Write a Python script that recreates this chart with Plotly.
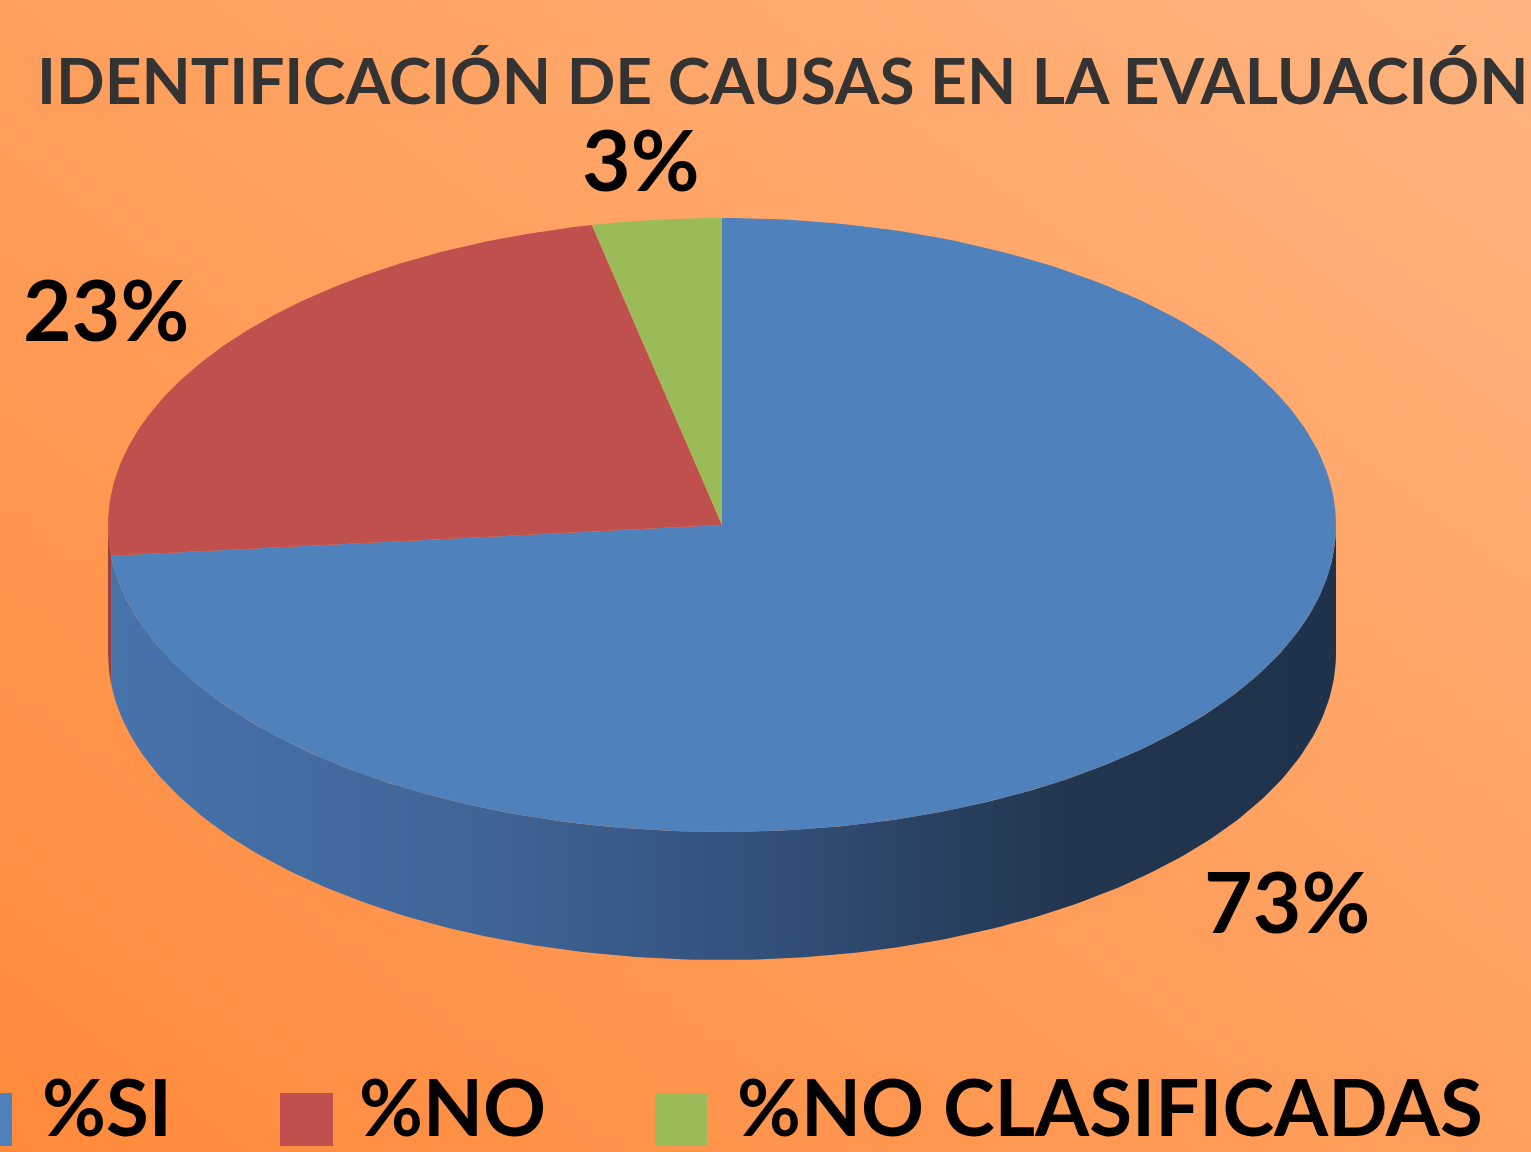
import base64
import numpy as np
import plotly.graph_objects as go

# ---------------- data ----------------
categories = ["%SI", "%NO", "%NO CLASIFICADAS"]
values = [73.4, 23.2, 3.4]
labels_text = ["73%", "23%", "3%"]
title_text = "IDENTIFICACIÓN DE CAUSAS EN LA EVALUACIÓN"

top_colors = ["#4F81BD", "#C0504D", "#9BBB59"]
side_colors = [
    [[0.0, "#4773AB"], [0.3, "#3F6597"], [0.55, "#314F78"], [0.78, "#22364F"], [1.0, "#1F324B"]],
    [[0.0, "#9A3F3D"], [1.0, "#9A3F3D"]],
    [[0.0, "#7A9446"], [1.0, "#7A9446"]],
]

W, H = 1531, 1152
FONT = "Lato"

# geometry of the 3D pie in axis units (rx = 1)
RY = 0.5        # vertical squash of the top ellipse
DEPTH = 0.2085  # thickness of the pie
PX = 614.0      # pixels per axis unit
CX, CY = 722.0, 525.0  # pixel position of the centre

total = float(sum(values))
bounds = np.concatenate([[0.0], np.cumsum(values)]) / total * 360.0


def arc(a0, a1, n=200):
    t = np.radians(np.linspace(a0, a1, n))
    return np.sin(t), RY * np.cos(t)


fig = go.Figure()

# side walls (front half only: 90..270 deg clockwise from top)
for i in range(len(values)):
    a0, a1 = max(bounds[i], 90.0), min(bounds[i + 1], 270.0)
    if a1 <= a0:
        continue
    xs, ys = arc(a0, a1)
    px = np.concatenate([xs, xs[::-1], xs[:1]])
    py = np.concatenate([ys, ys[::-1] - DEPTH, ys[:1]])
    fig.add_trace(go.Scatter(
        x=px, y=py, mode="lines", line=dict(width=0), fill="toself",
        fillgradient=dict(type="horizontal", colorscale=side_colors[i]),
        hoverinfo="skip", showlegend=False))

# top faces
for i in range(len(values)):
    xs, ys = arc(bounds[i], bounds[i + 1])
    px = np.concatenate([[0.0], xs, [0.0]])
    py = np.concatenate([[0.0], ys, [0.0]])
    fig.add_trace(go.Scatter(
        x=px, y=py, mode="lines", line=dict(width=0), fill="toself",
        fillcolor=top_colors[i], hoverinfo="text", text=categories[i],
        showlegend=False))

# percentage labels, placed outside each slice's mid-angle
annotations = []
for i in range(len(values)):
    mid = np.radians((bounds[i] + bounds[i + 1]) / 2.0)
    lx = 1.24 * np.sin(mid)
    ly = 1.2 * RY * np.cos(mid)
    if np.cos(mid) < 0:
        ly -= DEPTH
    annotations.append(dict(
        x=lx, y=ly, xref="x", yref="y", text=labels_text[i], showarrow=False,
        font=dict(family=FONT, size=84, color="#000000", weight="bold"),
        xanchor="center", yanchor="middle"))

# title
annotations.append(dict(
    x=783 / W, y=1 - 80 / H, xref="paper", yref="paper", text=title_text,
    showarrow=False, xanchor="center", yanchor="middle",
    font=dict(family=FONT, size=64, color="#333333", weight="bold")))

# legend (bottom, blue key partly cut by the frame as in the reference)
legend_sq = [(-41, 12), (280, 333), (655, 707)]
legend_tx = [40, 357, 735]
shapes = []
for i in range(len(categories)):
    x0, x1 = legend_sq[i]
    shapes.append(dict(type="rect", xref="paper", yref="paper",
                       x0=x0 / W, x1=x1 / W, y0=1 - 1146 / H, y1=1 - 1093 / H,
                       fillcolor=top_colors[i], line=dict(width=0)))
    annotations.append(dict(
        x=legend_tx[i] / W, y=1 - 1106 / H, xref="paper", yref="paper",
        text=categories[i], showarrow=False, xanchor="left", yanchor="middle",
        font=dict(family=FONT, size=78, color="#000000", weight="bold")))

# gradient background as an inline svg image
svg = (
    '<svg xmlns="http://www.w3.org/2000/svg" width="1531" height="1152">'
    '<defs><linearGradient id="g" x1="0" y1="1" x2="1" y2="0">'
    '<stop offset="0" stop-color="#FF8A3B"/>'
    '<stop offset="1" stop-color="#FFB47F"/>'
    '</linearGradient></defs>'
    '<rect width="1531" height="1152" fill="url(#g)"/></svg>'
)
src = "data:image/svg+xml;base64," + base64.b64encode(svg.encode()).decode()

fig.update_layout(
    width=W, height=H, autosize=False,
    margin=dict(l=0, r=0, t=0, b=0),
    paper_bgcolor="#FF9D5A", plot_bgcolor="rgba(0,0,0,0)",
    xaxis=dict(range=[-CX / PX, (W - CX) / PX], visible=False, fixedrange=True),
    yaxis=dict(range=[-(H - CY) / PX, CY / PX], visible=False, fixedrange=True),
    images=[dict(source=src, xref="paper", yref="paper", x=0, y=1,
                 sizex=1, sizey=1, sizing="stretch", layer="below",
                 xanchor="left", yanchor="top")],
    annotations=annotations,
    shapes=shapes,
    showlegend=False,
)

fig.write_html(
    "out.html",
    config={"displayModeBar": False},
    post_script="document.body.style.margin='0';document.body.style.padding='0';",
)
